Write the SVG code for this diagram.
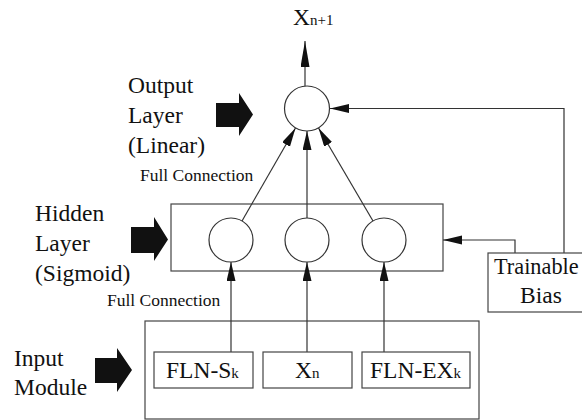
<svg xmlns="http://www.w3.org/2000/svg" width="582" height="420" viewBox="0 0 582 420">
<style>
.ln{stroke:#333;stroke-width:1.2;fill:none}
.bx{stroke:#444;stroke-width:1.2;fill:#fff}
.nd{stroke:#333;stroke-width:1.2;fill:#fff}
text{font-family:'Liberation Serif','Times New Roman',serif;fill:#111}
.big{font-size:23.5px}
.sm{font-size:15px}
.fc{font-size:17.5px}
.blk{fill:#111}
</style>
<defs>
<marker id="ah" markerUnits="userSpaceOnUse" markerWidth="20" markerHeight="10" refX="19" refY="4.5" orient="auto">
<path d="M0,0 L19,4.5 L0,9 Z" fill="#111"/>
</marker>
<marker id="ahl" markerUnits="userSpaceOnUse" markerWidth="27" markerHeight="10" refX="26" refY="4.5" orient="auto">
<path d="M0,0 L26,4.5 L0,9 Z" fill="#111"/>
</marker>
</defs>
<rect width="582" height="420" fill="#fff"/>

<g id="hidden-layer-box"><rect class="bx" x="171" y="204" width="272" height="67"/></g>
<g id="input-module-box"><rect class="bx" x="145" y="321" width="334" height="98"/></g>

<g id="connectors">
<line class="ln" x1="305" y1="86" x2="305" y2="41" marker-end="url(#ahl)"/>
<line class="ln" x1="242" y1="221" x2="295.5" y2="128" marker-end="url(#ah)"/>
<line class="ln" x1="307" y1="218" x2="307" y2="131" marker-end="url(#ah)"/>
<line class="ln" x1="373" y1="221" x2="318.5" y2="128" marker-end="url(#ah)"/>
<line class="ln" x1="231" y1="352" x2="231" y2="262" marker-end="url(#ah)"/>
<line class="ln" x1="307" y1="352" x2="307" y2="262" marker-end="url(#ah)"/>
<line class="ln" x1="384" y1="352" x2="384" y2="262" marker-end="url(#ah)"/>
<polyline class="ln" points="564,253 564,108.5 330,108.5" marker-end="url(#ah)"/>
<polyline class="ln" points="515,253 515,240 443,240" marker-end="url(#ah)"/>
</g>

<g id="output-node"><circle class="nd" cx="307" cy="108.5" r="22.5"/></g>
<g id="hidden-node-1"><circle class="nd" cx="231" cy="240" r="22"/></g>
<g id="hidden-node-2"><circle class="nd" cx="307" cy="240" r="22"/></g>
<g id="hidden-node-3"><circle class="nd" cx="384" cy="240" r="22"/></g>

<g id="input-fln-s"><rect class="bx" x="154" y="352" width="99" height="36"/>
<text class="big" x="166" y="378">FLN-S<tspan class="sm">k</tspan></text></g>
<g id="input-xn"><rect class="bx" x="263" y="352" width="89" height="36"/>
<text class="big" x="295" y="378">X<tspan class="sm">n</tspan></text></g>
<g id="input-fln-ex"><rect class="bx" x="362" y="352" width="108" height="36"/>
<text class="big" x="370" y="378">FLN-EX<tspan class="sm">k</tspan></text></g>

<g id="trainable-bias"><rect class="bx" x="488" y="253" width="100" height="59"/>
<text x="494" y="274" font-size="22.3px">Trainable</text>
<text class="big" x="520" y="303">Bias</text></g>

<g id="output-label"><text class="big" x="293" y="25">X<tspan class="sm">n+1</tspan></text></g>

<g id="output-layer-label">
<text class="big" x="128" y="93">Output</text>
<text class="big" x="128" y="123">Layer</text>
<text class="big" x="128" y="153">(Linear)</text>
<polygon class="blk" points="216,103 239,103 239,93 253,114.5 239,136 239,127 216,127"/>
<text class="fc" x="140" y="181">Full Connection</text>
</g>
<g id="hidden-layer-label">
<text class="big" x="35" y="221">Hidden</text>
<text class="big" x="35" y="251">Layer</text>
<text class="big" x="35" y="281">(Sigmoid)</text>
<polygon class="blk" points="131,227 154,227 154,217 168,239.5 154,261 154,253 131,253"/>
<text class="fc" x="107" y="306">Full Connection</text>
</g>
<g id="input-module-label">
<text class="big" x="14" y="366">Input</text>
<text class="big" x="14" y="395">Module</text>
<polygon class="blk" points="95,358 117,358 117,348 132,370 117,392 117,383 95,383"/>
</g>
</svg>
